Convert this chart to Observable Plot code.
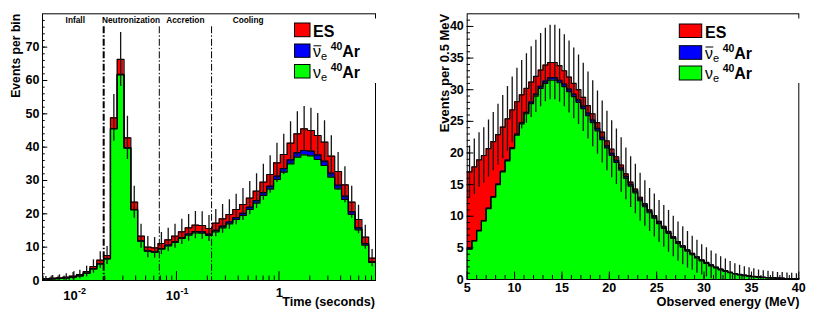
<!DOCTYPE html>
<html>
<head>
<meta charset="utf-8">
<script src="https://cdn.jsdelivr.net/npm/d3@7"></script>
<script src="https://cdn.jsdelivr.net/npm/@observablehq/plot@0.6"></script>
<style>
  html, body { margin: 0; padding: 0; background: #fff; }
  #figure { position: relative; width: 817px; height: 323px; overflow: hidden; background: #fff; }
  .panel { position: absolute; top: 0; }
  #overlay { position: absolute; left: 0; top: 0; }
</style>
</head>
<body>
<div id="figure">
  <div id="left" class="panel" style="left:0px"></div>
  <div id="right" class="panel" style="left:410px"></div>
  <svg id="overlay" width="817" height="323"></svg>
</div>
<script>
const FONT = "'Liberation Sans', Arial, Helvetica, sans-serif";

// ---------------- Left panel: events vs time (log-spaced bins) ----------------
const timeBinEdges = [0.004932, 0.005745, 0.006692, 0.007795, 0.009081, 0.01058, 0.01232, 0.01435, 0.01672, 0.01948,
  0.02270, 0.02644, 0.03080, 0.03588, 0.04180, 0.04869, 0.05672, 0.06607, 0.07697, 0.08966,
  0.1045, 0.1217, 0.1418, 0.1651, 0.1924, 0.2241, 0.2611, 0.3041, 0.3543, 0.4127,
  0.4808, 0.5601, 0.6525, 0.7601, 0.8855, 1.0316, 1.2017, 1.4000, 1.6309, 1.8999,
  2.2131, 2.5782, 3.0034, 3.4988, 4.0759, 4.7482, 5.5314, 6.4437, 7.5065, 8.7447];
const timeNue = [0.35, 0.5, 0.6, 0.8, 1.0, 1.4, 2.2, 3.5, 5.0, 6.5,
  45.5, 61.7, 39.7, 21.2, 11.8, 8.8, 8.5, 9.4, 10.4, 11.4,
  12.6, 13.6, 14.3, 14.2, 13.5, 14.6, 15.8, 17.0, 18.3, 19.5,
  21.3, 23.2, 25.5, 27.4, 30.3, 32.5, 35.0, 37.0, 37.7, 37.4,
  36.3, 34.5, 31.0, 27.5, 24.3, 19.8, 15.2, 10.6, 5.4];
const timeNuebar = [0, 0, 0, 0, 0, 0, 0, 0, 0, 0.05,
  0.1, 0.1, 0.1, 0.1, 0.1, 0.1, 0.1, 0.2, 0.25, 0.3,
  0.3, 0.35, 0.4, 0.4, 0.4, 0.45, 0.5, 0.55, 0.6, 0.65,
  0.7, 0.8, 0.85, 0.9, 1.0, 1.1, 1.2, 1.3, 1.3, 1.4,
  1.4, 1.3, 1.2, 1.1, 1.0, 0.8, 0.6, 0.5, 0.3];
const timeES = [0.15, 0.2, 0.2, 0.2, 0.3, 0.4, 0.5, 0.7, 1.1, 0.95,
  3.2, 4.5, 3.0, 2.2, 1.4, 1.1, 1.2, 1.5, 1.55, 1.6,
  1.7, 1.85, 1.9, 1.9, 1.7, 2.15, 2.2, 2.25, 2.4, 2.65,
  2.7, 2.8, 3.15, 3.5, 4.0, 4.2, 5.0, 5.7, 6.5, 6.2,
  5.8, 5.7, 5.1, 4.1, 3.4, 2.9, 2.5, 1.9, 1.0];
const timeErr = [0.7, 0.8, 0.9, 1.0, 1.1, 1.3, 1.6, 2.0, 2.5, 2.7,
  7.0, 8.1, 6.5, 4.8, 3.6, 3.2, 3.1, 3.3, 3.5, 3.6,
  3.8, 4.0, 4.1, 4.1, 3.9, 4.1, 4.3, 4.4, 4.6, 4.8,
  5.0, 5.2, 5.4, 5.6, 5.9, 6.1, 6.4, 6.6, 6.7, 6.7,
  6.6, 6.4, 6.1, 5.7, 5.4, 4.8, 4.3, 3.6, 2.6];
const phaseBoundaries = [0.0195, 0.068, 0.22];
const phaseNames = ["Infall", "Neutronization", "Accretion", "Cooling"];
const phaseLabelTime = [0.0103, 0.036, 0.122, 0.50];
const timeMajorTicks = [0.01, 0.1, 1];
const timeTickBase = ["10", "10", "1"];
const timeTickExp = ["-2", "-1", ""];
const timeMinorTicks = [0.005, 0.006, 0.007, 0.008, 0.009,
  0.02, 0.03, 0.04, 0.05, 0.06, 0.07, 0.08, 0.09,
  0.2, 0.3, 0.4, 0.5, 0.6, 0.7, 0.8, 0.9,
  2, 3, 4, 5, 6, 7, 8];
const countMajorTicksL = [0, 10, 20, 30, 40, 50, 60, 70];

// ---------------- Right panel: events vs observed energy (0.5 MeV bins) ----------------
const energyBinLow = [5, 5.5, 6, 6.5, 7, 7.5, 8, 8.5, 9, 9.5, 10, 10.5, 11, 11.5, 12, 12.5, 13, 13.5, 14, 14.5,
  15, 15.5, 16, 16.5, 17, 17.5, 18, 18.5, 19, 19.5, 20, 20.5, 21, 21.5, 22, 22.5, 23, 23.5, 24, 24.5,
  25, 25.5, 26, 26.5, 27, 27.5, 28, 28.5, 29, 29.5, 30, 30.5, 31, 31.5, 32, 32.5, 33, 33.5, 34, 34.5,
  35, 35.5, 36, 36.5, 37, 37.5, 38, 38.5, 39, 39.5];
const energyBinWidth = 0.5;
const energyNue = [4.8, 6.1, 7.7, 9.25, 11.2, 13.0, 15.0, 17.0, 18.75, 20.7,
  22.8, 24.6, 26.2, 27.8, 29.0, 30.2, 31.0, 31.5, 31.5, 31.1,
  30.5, 29.7, 28.9, 28.0, 27.0, 25.9, 24.8, 23.5, 22.1, 20.8,
  19.6, 18.5, 17.3, 16.0, 14.75, 13.7, 12.45, 11.5, 10.55, 9.7,
  8.83, 8.06, 7.28, 6.5, 5.72, 5.1, 4.47, 3.94, 3.41, 2.93,
  2.54, 2.16, 1.82, 1.535, 1.3, 1.065, 0.875, 0.735, 0.62, 0.515,
  0.435, 0.36, 0.315, 0.27, 0.235, 0.198, 0.17, 0.143, 0.125, 0.107];
const energyNuebar = [0.05, 0.05, 0.06, 0.07, 0.08, 0.1, 0.1, 0.12, 0.14, 0.15,
  0.17, 0.2, 0.22, 0.25, 0.3, 0.33, 0.36, 0.38, 0.4, 0.4,
  0.4, 0.4, 0.4, 0.4, 0.4, 0.4, 0.4, 0.38, 0.37, 0.36,
  0.35, 0.34, 0.32, 0.3, 0.29, 0.28, 0.27, 0.26, 0.25, 0.23,
  0.22, 0.21, 0.2, 0.19, 0.18, 0.16, 0.15, 0.14, 0.13, 0.12,
  0.11, 0.1, 0.09, 0.08, 0.07, 0.06, 0.055, 0.05, 0.045, 0.04,
  0.035, 0.03, 0.025, 0.022, 0.018, 0.016, 0.014, 0.012, 0.01, 0.009];
const energyES = [12.15, 11.65, 11.14, 10.28, 9.42, 8.7, 7.8, 6.98, 6.51, 5.95,
  5.13, 4.4, 3.78, 3.15, 2.8, 2.57, 2.54, 2.42, 2.4, 2.3,
  2.1, 1.9, 1.7, 1.6, 1.4, 1.2, 1.0, 0.92, 0.83, 0.74,
  0.65, 0.56, 0.48, 0.4, 0.36, 0.32, 0.28, 0.24, 0.2, 0.17,
  0.15, 0.13, 0.12, 0.11, 0.1, 0.09, 0.08, 0.07, 0.06, 0.05,
  0.05, 0.04, 0.04, 0.035, 0.03, 0.025, 0.02, 0.015, 0.015, 0.015,
  0.01, 0.01, 0.01, 0.008, 0.007, 0.006, 0.006, 0.005, 0.005, 0.004];
const energyErr = [4.1, 4.4, 4.3, 4.4, 4.5, 4.6, 4.8, 5.0, 5.1, 5.2,
  5.3, 5.4, 5.5, 5.6, 5.7, 5.8, 5.8, 5.9, 5.9, 5.8,
  5.7, 5.7, 5.6, 5.5, 5.4, 5.3, 5.2, 5.0, 4.9, 4.7,
  4.5, 4.4, 4.3, 4.1, 4.0, 3.9, 3.8, 3.6, 3.4, 3.4,
  3.3, 3.3, 3.3, 3.2, 3.1, 3.0, 2.9, 2.7, 2.6, 2.4,
  2.3, 2.2, 2.1, 1.95, 1.85, 1.7, 1.55, 1.45, 1.35, 1.3,
  1.2, 1.1, 1.05, 1.0, 0.95, 0.9, 0.9, 0.85, 0.85, 0.8];
const energyMajorTicks = [5, 10, 15, 20, 25, 30, 35, 40];
const energyMinorTicks = d3.range(6, 40, 1);
const countMajorTicksR = [0, 5, 10, 15, 20, 25, 30, 35, 40];

// ---------------- Legend ----------------
const legendColors = ["#ff0000", "#0000ff", "#00ff00"];

// ---------------- helpers ----------------
function buildBins(lo, hi, nue, nuebar, es, err, center) {
  return nue.map((g, i) => {
    const b = g + nuebar[i];
    const t = b + es[i];
    return {lo: lo[i], hi: hi[i], xc: center(lo[i], hi[i]), g, b, t, err: err[i]};
  });
}
function stepRows(bins) {
  const last = bins[bins.length - 1];
  return [...bins.map(d => ({x: d.lo, g: d.g, b: d.b, t: d.t})), {x: last.hi, g: last.g, b: last.b, t: last.t}];
}
function histMarks(bins) {
  const steps = stepRows(bins);
  const outline = {curve: "step-after", stroke: "#000", strokeWidth: 1.2};
  return [
    Plot.areaY(steps, {x: "x", y: "t", curve: "step-after", fill: legendColors[0]}),
    Plot.areaY(steps, {x: "x", y: "b", curve: "step-after", fill: legendColors[1]}),
    Plot.areaY(steps, {x: "x", y: "g", curve: "step-after", fill: legendColors[2]}),
    Plot.line(steps, {x: "x", y: "t", ...outline}),
    Plot.line(steps, {x: "x", y: "b", ...outline}),
    Plot.line(steps, {x: "x", y: "g", ...outline}),
    Plot.ruleX(bins, {x: "xc", y1: d => d.t - d.err, y2: d => d.t + d.err, stroke: "#151515", strokeWidth: 1.3, clip: true})
  ];
}
const tickText = {fontFamily: FONT, fontWeight: "bold", fill: "#000"};

// ---------------- Left plot ----------------
const timeBins = buildBins(timeBinEdges.slice(0, -1), timeBinEdges.slice(1), timeNue, timeNuebar, timeES, timeErr,
  (a, b) => Math.sqrt(a * b));
const tickIdx = timeMajorTicks.map((_, i) => i);

const leftPlot = Plot.plot({
  width: 410, height: 323,
  marginLeft: 42, marginRight: 35, marginTop: 13.3, marginBottom: 43,
  x: {type: "log", domain: [timeBinEdges[0], timeBinEdges[timeBinEdges.length - 1]], axis: null},
  y: {domain: [0, 80], axis: null},
  style: {fontFamily: FONT, background: "transparent", color: "#000"},
  marks: [
    ...histMarks(timeBins),
    Plot.ruleX([phaseBoundaries[0]], {x: d => d, insetTop: 13, stroke: "#000", strokeWidth: 2, strokeDasharray: "7,2,1.5,2"}),
    Plot.ruleX(phaseBoundaries.slice(1), {x: d => d, insetTop: 13, stroke: "#000", strokeWidth: 1, strokeDasharray: "7,2,1.5,2"}),
    Plot.text(phaseNames, {x: (d, i) => phaseLabelTime[i], frameAnchor: "top", text: d => d, lineAnchor: "bottom", dy: 8.8, fontSize: 8.3, ...tickText}),
    // ticks inside the frame
    Plot.axisY(d3.range(2, 80, 2), {anchor: "left", tickSize: 2.7, dx: 2.7, fill: "none", label: null}),
    Plot.axisY(countMajorTicksL, {anchor: "left", tickSize: 5.3, dx: 5.3, fill: "none", label: null}),
    Plot.axisX(timeMinorTicks, {anchor: "bottom", tickSize: 4.5, dy: -4.5, fill: "none", label: null}),
    Plot.axisX(timeMajorTicks, {anchor: "bottom", tickSize: 9, dy: -9, fill: "none", label: null}),
    // tick labels
    Plot.text(countMajorTicksL, {y: d => d, frameAnchor: "left", text: d => String(d), textAnchor: "end", dx: -3, lineAnchor: "middle", fontSize: 12.5, ...tickText}),
    Plot.text(tickIdx.filter(i => timeTickExp[i] !== ""), {x: i => timeMajorTicks[i], frameAnchor: "bottom", text: i => timeTickBase[i], textAnchor: "end", lineAnchor: "bottom", dx: 3.8, dy: 19, fontSize: 13, ...tickText}),
    Plot.text(tickIdx.filter(i => timeTickExp[i] !== ""), {x: i => timeMajorTicks[i], frameAnchor: "bottom", text: i => timeTickExp[i], textAnchor: "start", lineAnchor: "bottom", dx: 4, dy: 13, fontSize: 9, ...tickText}),
    Plot.text(tickIdx.filter(i => timeTickExp[i] === ""), {x: i => timeMajorTicks[i], frameAnchor: "bottom", text: i => timeTickBase[i], textAnchor: "middle", lineAnchor: "bottom", dx: 0.5, dy: 16.7, fontSize: 13, ...tickText}),
    // axis titles
    Plot.text(["Time (seconds)"], {frameAnchor: "bottom-right", text: d => d, textAnchor: "end", lineAnchor: "bottom", dx: -0.5, dy: 25, fontSize: 12.7, ...tickText}),
    Plot.text(["Events per bin"], {frameAnchor: "top-left", text: d => d, rotate: -90, textAnchor: "end", lineAnchor: "bottom", dx: -22.8, dy: 0, fontSize: 12.2, ...tickText}),
    Plot.frame({stroke: "#000", strokeWidth: 1})
  ]
});
document.getElementById("left").append(leftPlot);

// ---------------- Right plot ----------------
const energyBins = buildBins(energyBinLow, energyBinLow.map(e => e + energyBinWidth), energyNue, energyNuebar, energyES, energyErr,
  (a, b) => (a + b) / 2);

const rightPlot = Plot.plot({
  width: 407, height: 323,
  marginLeft: 56.7, marginRight: 18.7, marginTop: 13.3, marginBottom: 44,
  x: {domain: [5, 40], axis: null},
  y: {domain: [0, 42], axis: null},
  style: {fontFamily: FONT, background: "transparent", color: "#000"},
  marks: [
    ...histMarks(energyBins),
    Plot.axisY(d3.range(1, 42, 1), {anchor: "left", tickSize: 3.3, dx: 3.3, fill: "none", label: null}),
    Plot.axisY(countMajorTicksR, {anchor: "left", tickSize: 6.7, dx: 6.7, fill: "none", label: null}),
    Plot.axisX(energyMinorTicks, {anchor: "bottom", tickSize: 4, dy: -4, fill: "none", label: null}),
    Plot.axisX(energyMajorTicks, {anchor: "bottom", tickSize: 7.5, dy: -7.5, fill: "none", label: null}),
    Plot.text(countMajorTicksR, {y: d => d, frameAnchor: "left", text: d => String(d), textAnchor: "end", dx: -3.4, lineAnchor: "middle", fontSize: 12.5, ...tickText}),
    Plot.text(energyMajorTicks, {x: d => d, frameAnchor: "bottom", text: d => String(d), textAnchor: "middle", lineAnchor: "bottom", dy: 12, fontSize: 12.5, ...tickText}),
    Plot.text(["Observed energy (MeV)"], {frameAnchor: "bottom-right", text: d => d, textAnchor: "end", lineAnchor: "bottom", dx: 0.7, dy: 26.5, fontSize: 12.8, ...tickText}),
    Plot.text(["Events per 0.5 MeV"], {frameAnchor: "top-left", text: d => d, rotate: -90, textAnchor: "end", lineAnchor: "bottom", dx: -18, dy: 0, fontSize: 13, ...tickText}),
    Plot.frame({stroke: "#000", strokeWidth: 1})
  ]
});
document.getElementById("right").append(rightPlot);

// ---------------- Legends (ROOT style, white box over frame edge) ----------------
const overlay = d3.select("#overlay");
function drawLegend(cfg) {
  const g = overlay.append("g");
  g.append("rect").attr("x", cfg.coverX).attr("y", 18.5).attr("width", 5).attr("height", 64.5).attr("fill", "#fff");
  cfg.rows.forEach((r, i) => {
    g.append("rect").attr("x", cfg.boxX).attr("y", r.top).attr("width", cfg.boxW).attr("height", r.h)
      .attr("fill", legendColors[i]).attr("stroke", "#000").attr("stroke-width", 1);
    const t = g.append("text").attr("x", cfg.textX).attr("y", r.base).attr("font-family", FONT).attr("fill", "#000");
    if (i === 0) {
      t.attr("font-size", 16).attr("font-weight", "bold").text("ES");
    } else {
      t.append("tspan").attr("font-size", 16).text("ν");
      t.append("tspan").attr("font-size", 11).attr("dy", 3).text("e");
      t.append("tspan").attr("font-size", 10.5).attr("font-weight", "bold").attr("dx", 3.5).attr("dy", -10).text("40");
      t.append("tspan").attr("font-size", 16).attr("font-weight", "bold").attr("dy", 7).text("Ar");
      if (i === 1) {
        g.append("line").attr("x1", cfg.textX + 0.5).attr("x2", cfg.textX + 8.3)
          .attr("y1", r.base - 11.5).attr("y2", r.base - 11.5).attr("stroke", "#000").attr("stroke-width", 1);
      }
    }
  });
}
drawLegend({coverX: 373, boxX: 294.5, boxW: 15.5, textX: 313,
  rows: [{top: 23, h: 13.7, base: 36.8}, {top: 44, h: 13.3, base: 57.3}, {top: 64.5, h: 13.5, base: 77.8}]});
drawLegend({coverX: 796, boxX: 679.3, boxW: 22.4, textX: 705,
  rows: [{top: 24, h: 13.5, base: 37.5}, {top: 45.7, h: 13.6, base: 58.5}, {top: 66, h: 14, base: 79}]});
</script>
</body>
</html>
